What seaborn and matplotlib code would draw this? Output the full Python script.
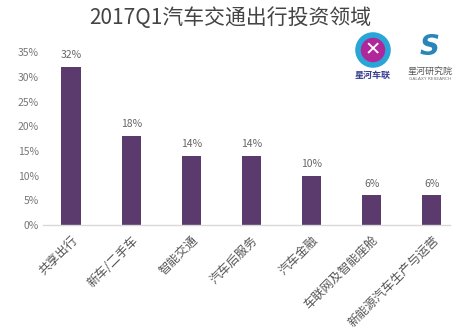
import matplotlib
matplotlib.use("Agg")
import matplotlib.pyplot as plt
import seaborn as sns
import pandas as pd
from matplotlib.patches import Ellipse

categories = ["共享出行", "新车/二手车", "智能交通", "汽车后服务", "汽车金融", "车联网及智能座舱", "新能源汽车生产与运营"]
values = [0.32, 0.18, 0.14, 0.14, 0.10, 0.06, 0.06]
value_labels = ["32%", "18%", "14%", "14%", "10%", "6%", "6%"]
yticks = [0, 0.05, 0.10, 0.15, 0.20, 0.25, 0.30, 0.35]
ytick_labels = ["0%", "5%", "10%", "15%", "20%", "25%", "30%", "35%"]
title = "2017Q1汽车交通出行投资领域"

sns.set_theme(style="white")
plt.rcParams['font.family'] = ['Noto Sans CJK SC', 'DejaVu Sans']

df = pd.DataFrame({"cat": categories, "val": values})
fig = plt.figure(figsize=(4.6, 3.34), dpi=100)
ax = fig.add_axes([0.093, 0.326, 0.885, 0.518])
sns.barplot(data=df, x="cat", y="val", color="#5b3a6e", saturation=1, width=0.32,
            linewidth=0, ax=ax)
ax.set_ylim(0, 0.35)
ax.set_xlim(-0.47, 6.3)
ax.set_yticks(yticks)
ax.set_yticklabels(ytick_labels, fontsize=7.5, color="#777777")
ax.set_xticks(range(len(categories)))
ax.set_xticklabels(categories, rotation=45, ha="right", rotation_mode="anchor", fontsize=8.8, color="#555555")
ax.tick_params(axis="x", length=0, pad=6)
ax.tick_params(axis="y", length=0, pad=3)
ax.set_xlabel("")
ax.set_ylabel("")
for s in ["top", "right", "left"]:
    ax.spines[s].set_visible(False)
ax.spines["bottom"].set_color("#d9d9d9")
ax.spines["bottom"].set_linewidth(1)
for p, lab in zip(ax.patches, value_labels):
    ax.annotate(lab, (p.get_x() + p.get_width() / 2, p.get_height()), xytext=(0, 5),
                textcoords="offset points", ha="center", va="bottom", fontsize=7.5, color="#666666")

fig.text(0.5, 0.946, title, ha="center", va="center", fontsize=15, color="#444444")

# logos
fig.patches.append(Ellipse((373 / 460, 1 - 50 / 334), 30 / 460, 30 / 334, transform=fig.transFigure,
                           facecolor="#b0279b", edgecolor="#2aa5d8", linewidth=4))
fig.text(373 / 460, 1 - 50 / 334, "✕", ha="center", va="center", fontsize=14, color="white",
         family=["DejaVu Sans"])
fig.text(430 / 460, 1 - 47 / 334, "S", ha="center", va="center", fontsize=20, color="#2a86b8",
         fontweight="bold", fontstyle="italic", family=["DejaVu Sans"])
fig.text(373 / 460, 1 - 75 / 334, "星河车联", ha="center", va="center", fontsize=6.5, color="#3a3f8f", fontweight="bold")
fig.text(430 / 460, 1 - 71 / 334, "星河研究院", ha="center", va="center", fontsize=6.5, color="#555555")
fig.text(430 / 460, 1 - 79 / 334, "GALAXY RESEARCH", ha="center", va="center", fontsize=3.2, color="#777777",
         family=["DejaVu Sans"])
fig.savefig("out.png", dpi=100, facecolor="white")
